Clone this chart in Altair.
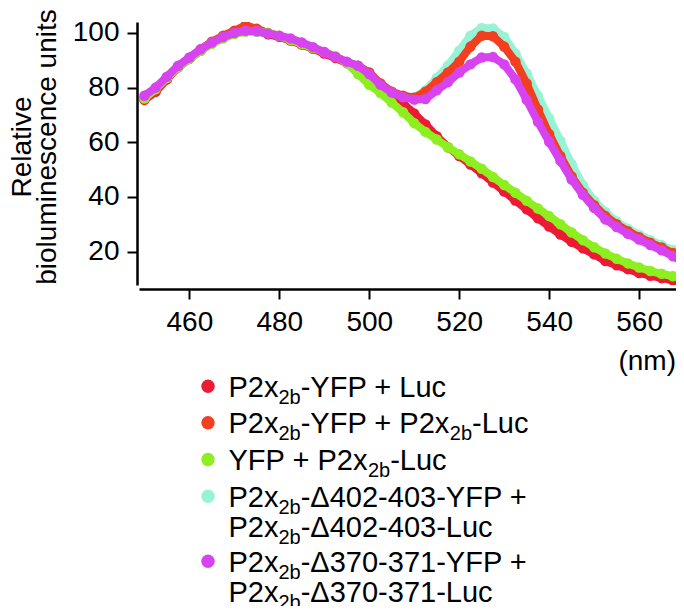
import altair as alt
import pandas as pd

# ---------------- data ----------------
wavelength_nm = [450.0, 452.5, 455.0, 457.5, 460.0, 462.5, 465.0, 467.5, 470.0, 472.5,
                 475.0, 477.5, 480.0, 482.5, 485.0, 487.5, 490.0, 492.5, 495.0, 497.5,
                 500.0, 502.5, 505.0, 507.5, 510.0, 512.5, 515.0, 517.5, 520.0, 522.5,
                 525.0, 527.5, 530.0, 532.5, 535.0, 537.5, 540.0, 542.5, 545.0, 547.5,
                 550.0, 552.5, 555.0, 557.5, 560.0, 562.5, 565.0, 567.5, 570.0]

yfp_luc = [75.5, 78.5, 83.0, 87.5, 90.5, 93.5, 96.5, 98.5, 100.2, 102.0,
           101.0, 99.5, 98.6, 97.2, 95.8, 94.2, 92.5, 90.8, 89.0, 87.0,
           84.0, 80.8, 77.5, 74.2, 70.5, 66.5, 62.2, 58.2, 55.0, 51.9,
           48.7, 45.3, 42.0, 38.7, 35.5, 32.2, 29.2, 26.3, 23.6, 21.2,
           19.0, 16.6, 15.0, 13.6, 12.2, 11.2, 10.3, 9.5, 8.8]

yfp_p2luc = [76.0, 79.0, 83.5, 87.5, 90.8, 94.0, 96.8, 99.0, 100.8, 102.8,
             101.5, 100.0, 98.8, 97.5, 96.0, 94.5, 92.8, 91.0, 89.2, 88.0,
             85.5, 81.5, 78.5, 77.0, 76.3, 78.5, 82.0, 85.5, 89.5, 95.0,
             99.0, 98.8, 95.0, 89.5, 81.5, 72.0, 63.0, 55.0, 47.5, 41.5,
             37.0, 33.0, 30.0, 27.5, 25.3, 23.3, 21.5, 19.5, 17.8]

free_yfp = [76.0, 79.5, 83.5, 87.5, 90.5, 93.5, 96.0, 98.0, 99.6, 100.5,
            100.5, 100.0, 99.0, 97.5, 96.0, 94.5, 93.0, 91.5, 89.0, 85.0,
            81.0, 78.0, 74.5, 71.0, 67.0, 63.8, 61.0, 58.2, 55.6, 53.0,
            50.3, 47.3, 44.4, 41.5, 38.6, 35.8, 33.0, 30.0, 27.0, 24.2,
            21.6, 19.3, 17.4, 15.7, 14.2, 12.9, 11.9, 11.0, 10.3]

d402 = [76.0, 79.0, 83.0, 87.2, 90.5, 93.5, 96.0, 98.2, 99.8, 100.5,
        100.3, 99.5, 98.8, 97.6, 96.2, 94.6, 92.8, 91.0, 89.2, 88.0,
        85.5, 81.5, 78.5, 77.0, 76.5, 79.0, 83.5, 88.0, 93.5, 99.0,
        101.8, 101.6, 98.5, 92.5, 85.2, 77.0, 68.8, 60.6, 52.0, 44.3,
        38.6, 34.5, 31.0, 28.4, 26.2, 24.2, 22.4, 20.6, 19.0]

d370 = [77.0, 80.0, 84.0, 88.0, 91.0, 94.0, 96.5, 98.5, 100.0, 100.8,
        100.6, 99.8, 99.0, 98.0, 96.5, 94.8, 93.0, 91.2, 89.5, 88.0,
        85.0, 81.0, 78.2, 76.5, 75.6, 75.8, 79.0, 82.0, 85.5, 88.5,
        91.0, 91.2, 88.5, 83.0, 75.5, 67.5, 60.2, 53.2, 46.4, 40.8,
        36.0, 31.8, 29.0, 26.5, 24.4, 22.4, 20.5, 18.3, 16.2]

series_keys = ["yfp_luc", "yfp_p2luc", "free_yfp", "d402", "d370"]
series_values = {"yfp_luc": yfp_luc, "yfp_p2luc": yfp_p2luc, "free_yfp": free_yfp,
                 "d402": d402, "d370": d370}
series_colors = {"yfp_luc": "#EC1A35", "yfp_p2luc": "#F23F1F", "free_yfp": "#8DEF1F",
                 "d402": "#97F3D6", "d370": "#D744EF"}
draw_order = ["d402", "yfp_luc", "yfp_p2luc", "free_yfp", "d370"]

x_ticks = [460, 480, 500, 520, 540, 560]
y_ticks = [20, 40, 60, 80, 100]

y_title_lines = ["Relative", "bioluminescence units"]
x_unit_label = "(nm)"

# legend lines: (text, is_subscript) segments; marker key for first line of an entry
legend_lines = [
    ("yfp_luc", [("P2x", 0), ("2b", 1), ("-YFP + Luc", 0)]),
    ("yfp_p2luc", [("P2x", 0), ("2b", 1), ("-YFP + P2x", 0), ("2b", 1), ("-Luc", 0)]),
    ("free_yfp", [("YFP + P2x", 0), ("2b", 1), ("-Luc", 0)]),
    ("d402", [("P2x", 0), ("2b", 1), ("-\u0394402-403-YFP +", 0)]),
    (None, [("P2x", 0), ("2b", 1), ("-\u0394402-403-Luc", 0)]),
    ("d370", [("P2x", 0), ("2b", 1), ("-\u0394370-371-YFP +", 0)]),
    (None, [("P2x", 0), ("2b", 1), ("-\u0394370-371-Luc", 0)]),
]

# ---------------- layout / style ----------------
FONT = "Liberation Sans"
W, H = 537, 263
X_DOM = [448.8, 568.2]
Y_DOM = [7.8, 104.0]
MAIN_FS, SUB_FS, SUB_DY = 29, 20, 7
legend_baselines = [374.7, 411.3, 448, 484.7, 514.7, 549.7, 579.7]
LEG_TEXT_X, LEG_MARK_X = 89.5, 69

# Arial / Liberation Sans advance widths (per 1000 em)
adv = {'P': 667, '2': 556, 'x': 500, 'b': 556, '-': 333, 'Y': 667, 'F': 611, ' ': 278,
       '+': 584, 'L': 556, 'u': 556, 'c': 500, '\u0394': 668}
for d in "0123456789":
    adv[d] = 556


def text_width(s, fs):
    return sum(adv.get(ch, 556) for ch in s) * fs / 1000.0


def px_to_x(px):
    return X_DOM[0] + px / W * (X_DOM[1] - X_DOM[0])


def py_to_y(py):
    return Y_DOM[1] - py / H * (Y_DOM[1] - Y_DOM[0])


# ---------------- data layers ----------------
rows = []
for k in series_keys:
    for w, v in zip(wavelength_nm, series_values[k]):
        rows.append({"series": k, "nm": w, "value": v})
df = pd.DataFrame(rows)

x_scale = alt.Scale(domain=X_DOM, nice=False, zero=False)
y_scale = alt.Scale(domain=Y_DOM, nice=False, zero=False)

x_axis = alt.Axis(values=x_ticks, title="", offset=4, grid=False, domainWidth=2.5,
                  domainColor="black", tickColor="black", tickWidth=2, tickSize=10,
                  labelFont=FONT, labelFontSize=28, labelColor="black", labelPadding=9,
                  labelFlush=False)
y_axis = alt.Axis(values=y_ticks, title="", offset=2, grid=False, domainWidth=2.5,
                  domainColor="black", tickColor="black", tickWidth=2, tickSize=10,
                  labelFont=FONT, labelFontSize=28, labelColor="black", labelPadding=8)

pos = dict(x=alt.X("nm:Q", scale=x_scale, axis=x_axis),
           y=alt.Y("value:Q", scale=y_scale, axis=y_axis))

layers = []
for k in draw_order:
    sub = df[df["series"] == k]
    layers.append(
        alt.Chart(sub).mark_line(color=series_colors[k], strokeWidth=8, strokeCap="round",
                                 strokeJoin="round", clip=True).encode(**pos)
    )
    layers.append(
        alt.Chart(sub).mark_circle(color=series_colors[k], size=110, opacity=1,
                                   clip=True).encode(**pos)
    )

# ---------------- legend + annotation layers ----------------
seg_rows = []
marker_rows = []
for (key, segs), base in zip(legend_lines, legend_baselines):
    x = LEG_TEXT_X
    for txt, is_sub in segs:
        fs = SUB_FS if is_sub else MAIN_FS
        seg_rows.append({"nm": px_to_x(x), "value": py_to_y(base + (SUB_DY if is_sub else 0)),
                         "t": txt, "fs": fs})
        x += text_width(txt, fs)
    if key is not None:
        marker_rows.append({"nm": px_to_x(LEG_MARK_X), "value": py_to_y(base - 10.5),
                            "c": series_colors[key]})

seg_df = pd.DataFrame(seg_rows)
mark_df = pd.DataFrame(marker_rows)
unit_df = pd.DataFrame([{"nm": px_to_x(W), "value": py_to_y(348), "t": x_unit_label}])
ytitle_df = pd.DataFrame({"t": y_title_lines,
                          "nm": [px_to_x(-108.5), px_to_x(-83.5)],
                          "value": [py_to_y(125), py_to_y(125)]})

layers.append(
    alt.Chart(mark_df).mark_circle(size=180, opacity=1).encode(
        color=alt.Color("c:N", scale=None, legend=None), **pos)
)
layers.append(
    alt.Chart(seg_df).mark_text(align="left", baseline="alphabetic", font=FONT,
                                color="black").encode(
        text="t:N", size=alt.Size("fs:Q", scale=None, legend=None), **pos)
)
layers.append(
    alt.Chart(unit_df).mark_text(align="right", baseline="alphabetic", font=FONT,
                                 fontSize=28, color="black").encode(text="t:N", **pos)
)
layers.append(
    alt.Chart(ytitle_df).mark_text(angle=270, align="center", baseline="alphabetic",
                                   font=FONT, fontSize=28, color="black").encode(
        text="t:N", **pos)
)

chart = alt.layer(*layers).properties(
    width=W,
    height=H,
    padding={"left": 131, "top": 14, "right": 0, "bottom": 321},
    autosize=alt.AutoSizeParams(type="none"),
    background="white",
).configure_view(stroke=None)

chart.save("out.html", embed_options={"renderer": "svg", "actions": False})
